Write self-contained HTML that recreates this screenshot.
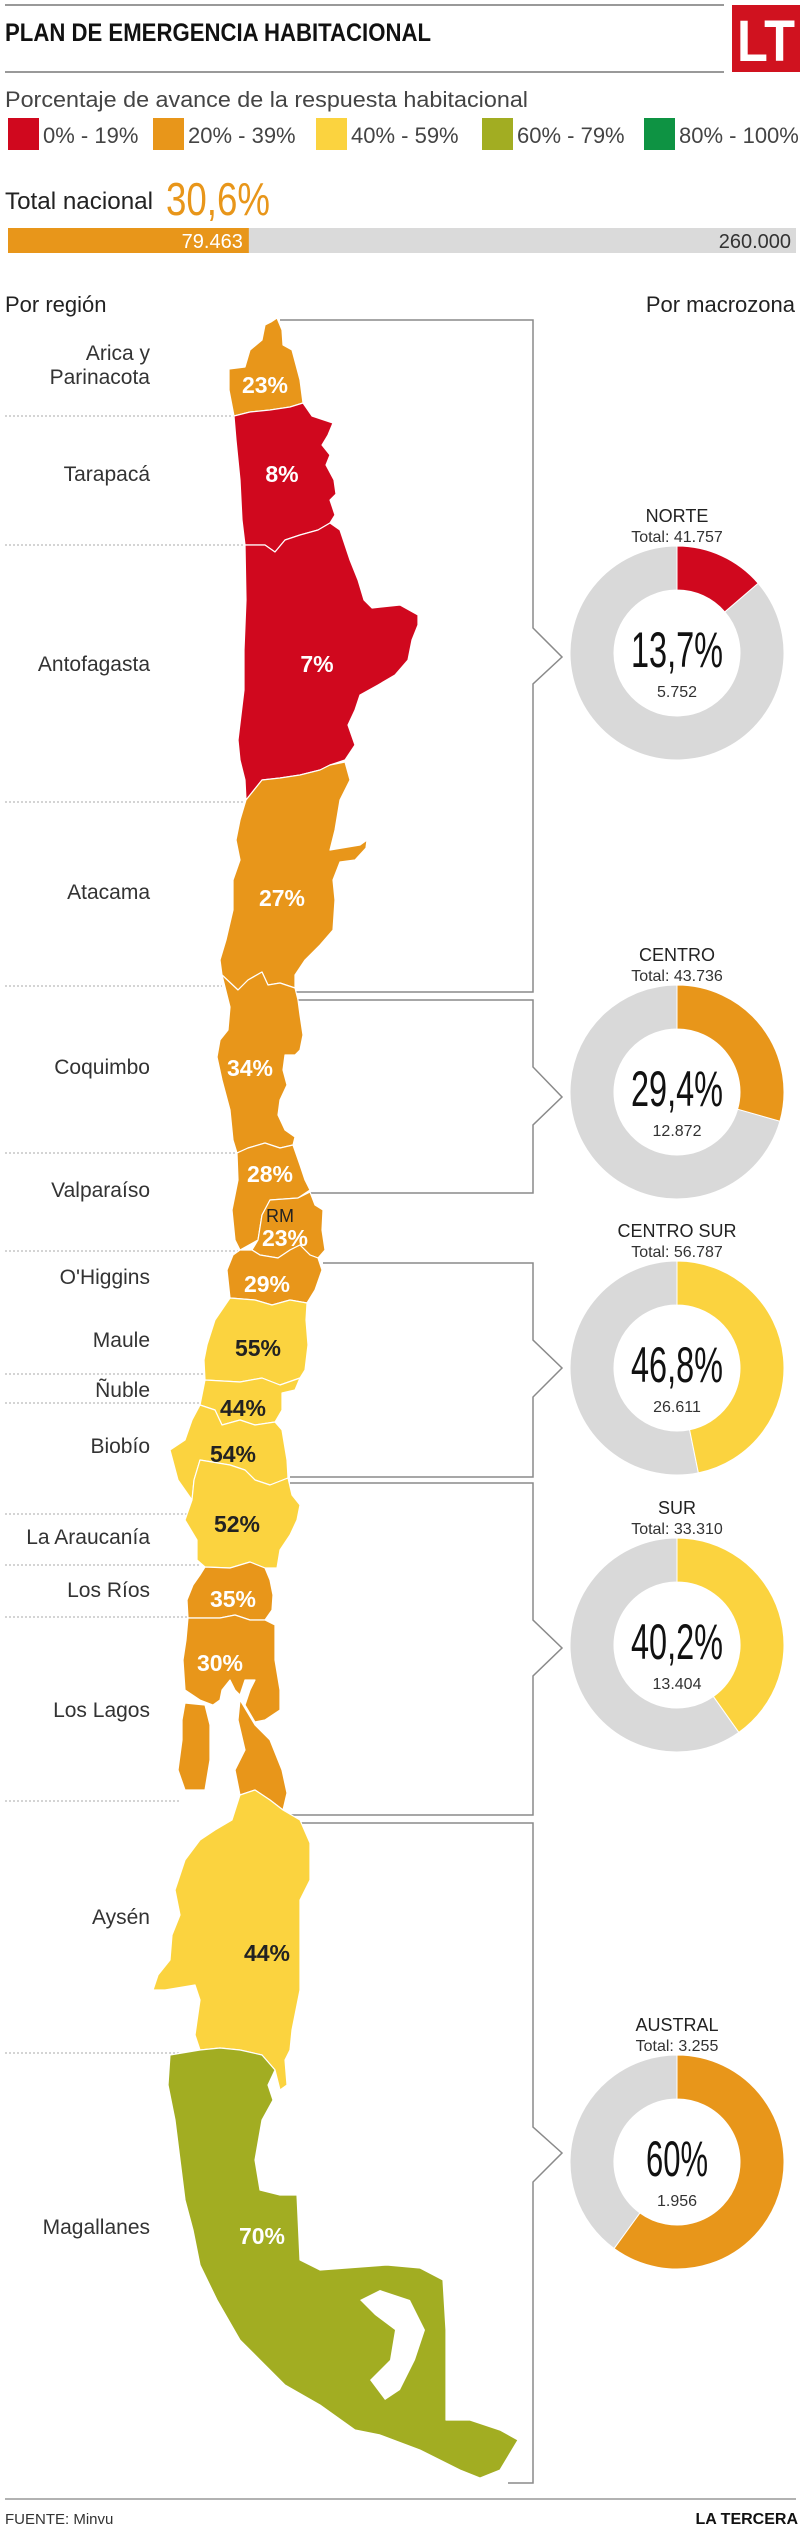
<!DOCTYPE html>
<html><head><meta charset="utf-8"><style>
html,body{margin:0;padding:0;background:#fff;}
svg{display:block;}
text{font-family:"Liberation Sans",sans-serif;}
.n{font-family:"Liberation Sans Narrow","Liberation Sans",sans-serif;}
</style></head><body>
<svg id="chart" width="800" height="2535" viewBox="0 0 800 2535" xmlns="http://www.w3.org/2000/svg">
<g>
<line x1="5" y1="5" x2="724" y2="5" stroke="#999" stroke-width="2"/>
<line x1="5" y1="72" x2="724" y2="72" stroke="#999" stroke-width="2"/>
<text x="5" y="41" font-size="25" font-weight="bold" fill="#111" textLength="426" lengthAdjust="spacingAndGlyphs">PLAN DE EMERGENCIA HABITACIONAL</text>
<rect x="732" y="5" width="68" height="67" fill="#d0121f"/>
<text x="766" y="61" font-size="58" font-weight="bold" fill="#fff" text-anchor="middle" textLength="58" lengthAdjust="spacingAndGlyphs">LT</text>
<text x="5" y="107" font-size="22" fill="#444" textLength="523" lengthAdjust="spacingAndGlyphs">Porcentaje de avance de la respuesta habitacional</text>
</g>
<g id="legend"></g>
<g>
<text x="5" y="209" font-size="24" fill="#222" textLength="148" lengthAdjust="spacingAndGlyphs">Total nacional</text>
<text id="totalPct" class="n" x="166" y="215" font-size="46" fill="#e8961a" textLength="104" lengthAdjust="spacingAndGlyphs"></text>
<g id="totalBar"></g>
</g>
<text x="5" y="312" font-size="22" fill="#222">Por región</text>
<text x="795" y="312" font-size="22" fill="#222" text-anchor="end">Por macrozona</text>
<g id="seps"></g>
<g id="brackets" fill="none" stroke="#8a8a8a" stroke-width="1.5"></g>
<g id="map" stroke="#fff" stroke-width="1.2" stroke-linejoin="round"></g>
<g id="regionLabels"></g>
<g id="donuts"></g>
<line x1="5" y1="2499" x2="796" y2="2499" stroke="#999" stroke-width="1.5"/>
<text x="5" y="2524" font-size="15" fill="#333" class="n">FUENTE: Minvu</text>
<text x="798" y="2524" font-size="16" font-weight="bold" fill="#111" text-anchor="end" class="n">LA TERCERA</text>
</svg>
<script>
const NS="http://www.w3.org/2000/svg";
// Legend
const legendLabels=["0% - 19%","20% - 39%","40% - 59%","60% - 79%","80% - 100%"];
const legendColors=["#d0081e","#e8961a","#fbd33f","#a2ad22","#0e9343"];
// National total
const totalDone=[79463];
const totalGoal=[260000];
const totalPctLabel=["30,6%"];
// Regions
const regionNames=["Arica y Parinacota","Tarapacá","Antofagasta","Atacama","Coquimbo","Valparaíso","RM","O'Higgins","Maule","Ñuble","Biobío","La Araucanía","Los Ríos","Los Lagos","Aysén","Magallanes"];
const regionPct=[23,8,7,27,34,28,23,29,55,44,54,52,35,30,44,70];
// Macrozones
const zoneNames=["NORTE","CENTRO","CENTRO SUR","SUR","AUSTRAL"];
const zoneTotals=["41.757","43.736","56.787","33.310","3.255"];
const zonePct=[13.7,29.4,46.8,40.2,60];
const zonePctLabels=["13,7%","29,4%","46,8%","40,2%","60%"];
const zoneDone=["5.752","12.872","26.611","13.404","1.956"];
const zoneColors=["#d0081e","#e8961a","#fbd33f","#fbd33f","#e8961a"];

function colorFor(p){return legendColors[Math.min(4,Math.floor(p/20))];}
function mk(tag,attrs,parent){const e=document.createElementNS(NS,tag);for(const k in attrs)e.setAttribute(k,attrs[k]);parent.appendChild(e);return e;}

// legend
const lg=document.getElementById('legend');
const legX=[8,153,316,482,644];
legendLabels.forEach((l,i)=>{
  const r=mk('rect',{x:legX[i],y:118,width:31,height:32,fill:legendColors[i]},lg);
  
  
  const t=mk('text',{x:legX[i]+35,y:143,'font-size':22,fill:'#444'},lg);
  
  
  t.textContent=l;
});

// total bar
document.getElementById('totalPct').textContent=totalPctLabel[0];
const tb=document.getElementById('totalBar');
const bx0=8,bx1=796;
const bxs=v=>bx0+(bx1-bx0)*v/totalGoal[0];
const bg=mk('rect',{x:bx0,y:228,width:bx1-bx0,height:25,fill:'#dadada'},tb);


const fg=mk('rect',{x:bx0,y:228,width:bxs(totalDone[0])-bx0,height:25,fill:'#e8961a'},tb);


const t1=mk('text',{x:bxs(totalDone[0])-6,y:248,'font-size':20,fill:'#fff','text-anchor':'end'},tb);


t1.textContent=totalDone[0].toLocaleString('de-DE');
const t2=mk('text',{x:791,y:248,'font-size':20,fill:'#333','text-anchor':'end'},tb);


t2.textContent=totalGoal[0].toLocaleString('de-DE');

// separators
const sepY=[416,545,802,986,1153,1251,1374,1403,1514,1565,1617,1801,2053];
const sepX=[234,245,246,222,237,238,205,202,190,200,188,180,200];
const sp=document.getElementById('seps');
sepY.forEach((y,i)=>{mk('line',{x1:5,y1:y,x2:sepX[i],y2:y,stroke:'#aaa','stroke-width':1,'stroke-dasharray':'2,2'},sp);});

// brackets
const br=document.getElementById('brackets');
const brk=[[320,992,280,295,628,684,657],[1000,1193,295,310,1067,1125,1097],[1263,1477,323,290,1340,1397,1368],[1483,1815,290,290,1620,1676,1648],[1823,2483,290,508,2127,2182,2153]];
brk.forEach(b=>{
  const [t,bt,lx,blx,n1,n2,tip]=b;
  mk('path',{d:`M${lx},${t}H533V${n1}L562,${tip}L533,${n2}V${bt}H${blx}`},br);
});

// map polygons
const polys=[
"271,322 277,318 282,330 283,345 292,350 296,365 300,380 303,403 290,407 270,410 250,412 234,416 229,390 229,369 245,367 250,350 262,340 265,325",
"234,416 250,412 270,410 290,407 303,403 312,416 333,423 328,435 322,445 330,455 326,465 334,480 336,494 330,500 335,515 330,523 318,530 300,535 285,540 275,552 265,545 245,545 242,520 240,480 236,440",
"245,545 265,545 275,552 285,540 300,535 318,530 330,523 340,530 345,545 350,560 358,580 364,600 372,608 400,605 418,615 418,625 412,640 408,660 395,675 378,685 360,695 355,710 348,725 355,745 345,760 330,765 320,770 300,775 280,778 262,780 246,800 245,780 240,760 238,740 241,715 244,690 244,650 246,600",
"246,800 262,780 280,778 300,775 320,770 330,765 345,762 350,780 340,800 335,830 330,850 360,845 367,840 366,848 355,860 340,862 333,880 335,900 333,930 320,945 305,960 295,975 295,988 280,983 268,985 262,972 248,980 238,990 222,975 220,960 226,940 233,910 233,880 240,860 236,840 240,820",
"222,975 238,990 248,980 262,972 268,985 280,983 295,988 298,1000 300,1015 303,1035 300,1050 295,1055 285,1055 283,1070 287,1085 280,1100 278,1115 285,1130 295,1137 293,1145 280,1148 265,1143 248,1148 237,1153 233,1140 230,1110 222,1080 217,1057 220,1040 228,1030 230,1007",
"237,1153 248,1148 265,1143 280,1148 293,1145 300,1165 305,1180 310,1190 298,1198 270,1200 262,1215 258,1240 240,1250 235,1240 232,1210 238,1180",
"262,1215 270,1200 298,1198 310,1192 315,1205 323,1210 322,1230 325,1250 318,1258 310,1255 300,1245 290,1250 278,1258 260,1255 252,1250 258,1240",
"240,1250 252,1250 260,1255 278,1258 290,1250 300,1245 310,1255 318,1258 322,1270 315,1290 307,1303 290,1300 272,1305 255,1300 230,1298 227,1270 233,1255",
"230,1298 255,1300 272,1305 290,1300 307,1303 306,1320 308,1345 305,1370 300,1378 280,1385 262,1378 240,1382 205,1380 204,1360 207,1345 215,1320",
"205,1380 240,1382 262,1378 280,1385 300,1378 295,1390 282,1393 282,1410 275,1422 255,1425 240,1420 222,1425 215,1410 200,1405",
"200,1405 215,1410 222,1425 240,1420 255,1425 275,1422 282,1430 287,1460 288,1478 270,1485 255,1480 245,1470 230,1465 200,1460 194,1480 192,1500 178,1480 170,1450 185,1440 192,1420",
"192,1500 194,1480 200,1460 230,1465 245,1470 255,1480 270,1485 288,1478 292,1495 300,1505 297,1520 290,1535 280,1550 277,1568 265,1568 250,1562 230,1568 205,1567 197,1560 197,1540 185,1520",
"205,1567 230,1568 250,1562 265,1568 270,1580 273,1595 272,1610 265,1620 250,1620 235,1615 220,1618 188,1618 187,1600 193,1585 200,1575",
"188,1618 220,1618 235,1615 250,1620 265,1620 275,1625 275,1660 280,1690 280,1710 265,1720 255,1722 245,1705 250,1690 255,1680 245,1680 240,1695 235,1690 230,1680 222,1690 220,1700 213,1705 200,1700 185,1690 183,1660 186,1640|240,1700 255,1725 270,1740 282,1770 287,1793 283,1810 270,1800 255,1790 240,1795 235,1770 245,1750 238,1720|185,1703 205,1705 210,1725 210,1760 205,1790 185,1790 178,1770 182,1740 182,1720",
"240,1795 255,1790 270,1800 283,1810 300,1820 310,1843 310,1880 300,1900 300,1990 292,2030 290,2050 285,2060 287,2085 280,2090 275,2070 262,2055 240,2050 220,2048 200,2050 195,2035 200,2000 195,1985 165,1990 153,1990 158,1975 170,1960 172,1935 180,1915 175,1890 185,1860 200,1840 215,1830 232,1820",
"170,2055 200,2050 220,2048 240,2050 262,2055 275,2070 268,2085 273,2100 262,2120 255,2160 260,2190 280,2195 297,2195 300,2260 320,2270 387,2265 420,2268 443,2280 446,2330 446,2420 470,2420 500,2430 518,2440 500,2470 480,2478 460,2470 420,2450 380,2435 355,2430 320,2405 285,2385 260,2360 240,2340 217,2300 200,2265 193,2230 185,2200 180,2160 175,2120 168,2085"
];
const labelPos=[[265,393],[282,482],[317,672],[282,906],[250,1076],[270,1182],[285,1246],[267,1292],[258,1356],[243,1416],[233,1462],[237,1532],[233,1607],[220,1671],[267,1961],[262,2244]];
const labelY=[[360,384],[481],[671],[899],[1074],[1197],null,[1284],[1347],[1397],[1453],[1544],[1597],[1717],[1924],[2234]];
const mp=document.getElementById('map');
const rl=document.getElementById('regionLabels');
regionNames.forEach((nm,i)=>{
  const g=mk('g',{fill:colorFor(regionPct[i])},mp);
  
  
  polys[i].split('|').forEach(p=>mk('polygon',{points:p},g));
  const dark=regionPct[i]>=40&&regionPct[i]<60;
  if(nm==='RM'){
    const r=mk('text',{x:labelPos[i][0]-5,y:labelPos[i][1]-24,'font-size':18,fill:'#222','text-anchor':'middle'},rl);
    
    
    r.textContent='RM';
  }
  const t=mk('text',{x:labelPos[i][0],y:labelPos[i][1],'font-size':23,'font-weight':'bold',fill:dark?'#222':'#fff','text-anchor':'middle'},rl);
  
  
  t.textContent=regionPct[i]+'%';
  if(labelY[i]){
    const lines=labelY[i].length===2?['Arica y','Parinacota']:[nm];
    lines.forEach((ln,j)=>{
      const l=mk('text',{x:150,y:labelY[i][j],'font-size':21,fill:'#333','text-anchor':'end'},rl);
      
      
      l.textContent=ln;
    });
  }
});
// Magellan strait cutout
mk('polygon',{points:"360,2300 380,2290 410,2300 425,2330 415,2360 400,2390 385,2400 370,2380 390,2360 395,2330 375,2315",fill:'#fff',stroke:'none'},mp);

// donuts
const dCy=[653,1092,1368,1645,2162];
const dCx=677,R=107,r=63;
const dn=document.getElementById('donuts');
function pt(cx,cy,rad,a){return [cx+rad*Math.sin(a),cy-rad*Math.cos(a)];}
zoneNames.forEach((z,i)=>{
  const cy=dCy[i];
  const g=mk('g',{},dn);
  
  
  const a=2*Math.PI*zonePct[i]/100;
  const seg=(a0,a1,fill)=>{
    const large=(a1-a0)>Math.PI?1:0;
    const [x1,y1]=pt(dCx,cy,R,a0),[x2,y2]=pt(dCx,cy,R,a1),[x3,y3]=pt(dCx,cy,r,a1),[x4,y4]=pt(dCx,cy,r,a0);
    return mk('path',{d:`M${x1},${y1}A${R},${R} 0 ${large} 1 ${x2},${y2}L${x3},${y3}A${r},${r} 0 ${large} 0 ${x4},${y4}Z`,fill:fill,stroke:'#fff','stroke-width':1},g);
  };
  const rest=seg(a,2*Math.PI-0.0001,'#d9d9d9');
  
  
  const done=seg(0,a,zoneColors[i]);
  
  
  const n=mk('text',{x:dCx,y:cy-131,'font-size':18,fill:'#222','text-anchor':'middle'},g);
  
  
  n.textContent=z;
  const tt=mk('text',{x:dCx,y:cy-111,'font-size':16,fill:'#333','text-anchor':'middle'},g);
  
  
  tt.textContent='Total: '+zoneTotals[i];
  const p=mk('text',{x:dCx,y:cy+14,'font-size':50,fill:'#111','text-anchor':'middle',class:'n',textLength:zonePctLabels[i].length>3?92:62,lengthAdjust:'spacingAndGlyphs'},g);
  
  
  p.textContent=zonePctLabels[i];
  const d=mk('text',{x:dCx,y:cy+44,'font-size':16,fill:'#333','text-anchor':'middle'},g);
  
  
  d.textContent=zoneDone[i];
});
</script>
</body></html>
